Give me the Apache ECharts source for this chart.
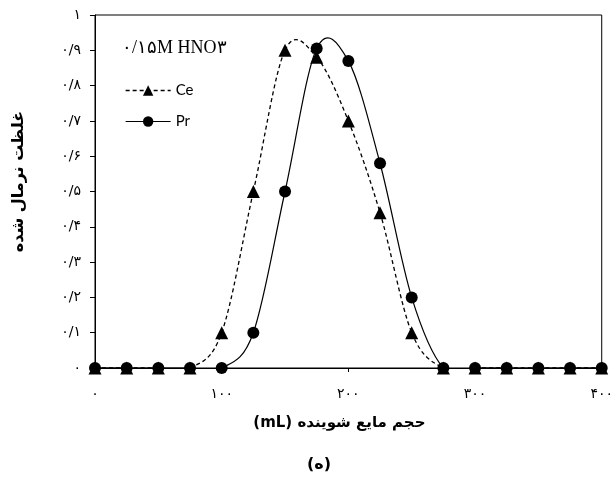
<!DOCTYPE html>
<html><head><meta charset="utf-8">
<script src="https://cdn.jsdelivr.net/npm/echarts@6/dist/echarts.min.js"></script>
<style>html,body{margin:0;padding:0;background:#fff}#c{width:616px;height:478px}</style>
</head><body>
<div id="c" dir="rtl"></div>
<script>
const volumes = [0,25,50,75,100,125,150,175,200,225,250,275,300,325,350,375,400];
const ceValues = [0,0,0,0,0.1,0.5,0.9,0.88,0.7,0.44,0.1,0,0,0,0,0,0];
const prValues = [0,0,0,0,0,0.1,0.5,0.905,0.87,0.58,0.2,0,0,0,0,0,0];
const xTickLabels = ['۰','۱۰۰','۲۰۰','۳۰۰','۴۰۰'];
const yTickLabels = ['۰','۰/۱','۰/۲','۰/۳','۰/۴','۰/۵','۰/۶','۰/۷','۰/۸','۰/۹','۱'];
const seriesNames = ['Ce','Pr'];
const conditionLabel = '۰/۱۵M HNO۳';
const xTitle = 'حجم مایع شوینده (mL)';
const yTitle = 'غلظت نرمال شده';
const caption = '(ه)';

const arabicFont = 'DejaVu Sans';
const ceLine = {color:'#000',width:1.3,type:[4,3]};
const prLine = {color:'#000',width:1.2,type:'solid'};

// smooth curve through the data points (Catmull-Rom style, like a spreadsheet's smoothed scatter)
function curveSeries(name, values, lw, dash){
  return {
    name:name, type:'custom', silent:true, z:1, clip:true,
    data: volumes.map((x,i)=>[x, values[i]]),
    renderItem:(params, api)=>{
      const i = params.dataIndex, n = volumes.length;
      if (i >= n-1) return null;
      const P = k => { const kk = Math.max(0, Math.min(n-1, k)); return api.coord([volumes[kk], values[kk]]); };
      const p0=P(i-1), p1=P(i), p2=P(i+1), p3=P(i+2);
      return {type:'bezierCurve',
        shape:{x1:p1[0],y1:p1[1],x2:p2[0],y2:p2[1],
          cpx1:p1[0]+(p2[0]-p0[0])/6, cpy1:p1[1]+(p2[1]-p0[1])/6,
          cpx2:p2[0]-(p3[0]-p1[0])/6, cpy2:p2[1]-(p3[1]-p1[1])/6},
        style:{fill:null, stroke:'#000', lineWidth:lw, lineDash:dash}};
    }
  };
}

const chart = echarts.init(document.getElementById('c'), null, {renderer:'canvas'});
chart.setOption({
  animation:false,
  backgroundColor:'#fff',
  title:[
    {text:conditionLabel,left:117,top:34,textStyle:{fontFamily:'Liberation Serif',fontSize:18,fontWeight:'normal',color:'#000'}},
    {text:caption,left:302,top:452,textStyle:{fontFamily:arabicFont,fontSize:16,fontWeight:'bold',color:'#000'}}
  ],
  legend:{
    orient:'vertical',left:120,top:78,itemWidth:45,itemHeight:13,itemGap:16,
    data:[
      {name:seriesNames[0],lineStyle:Object.assign({opacity:1},ceLine)},
      {name:seriesNames[1],lineStyle:Object.assign({opacity:1},prLine)}
    ],
    textStyle:{fontFamily:'Lato',fontSize:15,color:'#000'}
  },
  grid:{left:95,right:13,top:15,bottom:110,show:true,borderColor:'#000',borderWidth:1,containLabel:false},
  xAxis:{
    type:'value',min:0,max:400,interval:100,
    name:xTitle,nameLocation:'middle',nameGap:48,
    nameTextStyle:{fontFamily:arabicFont,fontSize:15,fontWeight:'bold',color:'#000',padding:[0,18,0,0]},
    axisLine:{show:true,lineStyle:{color:'#000',width:1}},
    axisTick:{show:true,inside:false,length:4,lineStyle:{color:'#000'}},
    splitLine:{show:false},
    axisLabel:{margin:19,fontFamily:arabicFont,fontSize:14,color:'#000',
      formatter:v=>xTickLabels[Math.round(v/100)]}
  },
  yAxis:{
    type:'value',min:0,max:1,interval:0.1,
    name:yTitle,nameLocation:'middle',nameGap:68,
    nameTextStyle:{fontFamily:arabicFont,fontSize:16,fontWeight:'bold',color:'#000',padding:[0,0,0,20]},
    axisLine:{show:true,lineStyle:{color:'#000',width:1}},
    axisTick:{show:true,inside:false,length:5,lineStyle:{color:'#000'}},
    splitLine:{show:false},
    axisLabel:{margin:14,fontFamily:arabicFont,fontSize:14,color:'#000',
      formatter:v=>yTickLabels[Math.round(v*10)]}
  },
  series:[
    curveSeries('Ce curve', ceValues, 1.3, [4,3]),
    curveSeries('Pr curve', prValues, 1.2, null),
    {name:seriesNames[0],type:'line',
     data:volumes.map((x,i)=>[x,ceValues[i]]),
     symbol:'triangle',symbolSize:13,
     itemStyle:{color:'#000'},
     lineStyle:Object.assign({opacity:0},ceLine),z:3},
    {name:seriesNames[1],type:'line',
     data:volumes.map((x,i)=>[x,prValues[i]]),
     symbol:'circle',symbolSize:12,
     itemStyle:{color:'#000'},
     lineStyle:Object.assign({opacity:0},prLine),z:2}
  ]
});
</script></body></html>
